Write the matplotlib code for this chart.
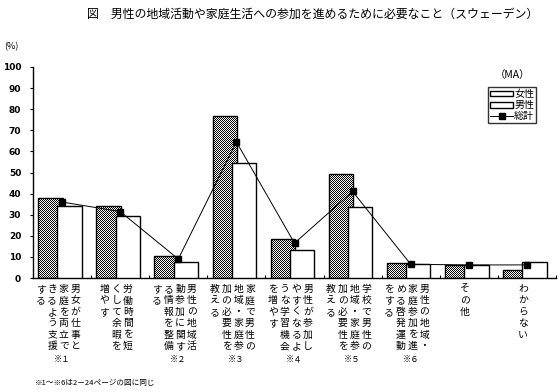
import numpy as np
import matplotlib
matplotlib.use("Agg")
import matplotlib.pyplot as plt

plt.rcParams['font.family'] = ['Noto Sans CJK JP', 'DejaVu Sans']

# ---------------- data ----------------
categories = [
    "男女が仕事と家庭を両立できるよう支援する",
    "労働時間を短くして余暇を増やす",
    "男性の地域活動参加に関する情報を整備する",
    "家庭で男性の地域・家庭参加の必要性を教える",
    "男性が参加しやすくなるような学習機会を増やす",
    "学校で男性の地域・家庭参加の必要性を教える",
    "男性の地域・家庭参加を進める啓発運動をする",
    "その他",
    "わからない",
]
notes = ["※１", "", "※２", "※３", "※４", "※５", "※６", "", ""]
female = [38, 34, 10.5, 77, 18.5, 49.5, 7, 6, 4]
male = [34, 29.5, 7.5, 54.5, 13.5, 33.5, 6.5, 6, 7.5]
total = [36, 31.5, 9, 64.5, 16.5, 41, 6.5, 6.2, 6.2]
series_names = ["女性", "男性", "総計"]
yticks = list(range(0, 101, 10))
title = "図　男性の地域活動や家庭生活への参加を進めるために必要なこと（スウェーデン）"
footnote = "※1～※6は2－24ページの図に同じ"

W, H = 560, 392
fig = plt.figure(figsize=(W / 100, H / 100), dpi=100)
ax_l, ax_r, ax_t, ax_b = 33, 556, 67, 278
ax = fig.add_axes([ax_l / W, 1 - ax_b / H, (ax_r - ax_l) / W, (ax_b - ax_t) / H])
ax.patch.set_visible(False)

n = len(categories)
x = np.arange(n)
bw = 0.42
bars_f = ax.bar(x - 0.2, female, bw, facecolor='none', edgecolor='black', lw=1.0, zorder=2)
bars_m = ax.bar(x + 0.13, male, bw, facecolor='white', edgecolor='black', lw=1.0, zorder=3)
line, = ax.plot(x, total, color='black', lw=0.7, marker='s', ms=4.2, mfc='black', mec='black', zorder=4)

ax.set_xlim(-0.5, n - 0.5)
ax.set_ylim(0, 100)
ax.set_yticks(yticks)
ax.set_yticklabels([str(v) for v in yticks], fontsize=6.5, family='DejaVu Sans', fontweight='bold')
ax.tick_params(axis='y', direction='out', length=2.5, width=0.8, pad=6)
ax.set_xticks(np.arange(n + 1) - 0.5)
ax.set_xticklabels([])
ax.tick_params(axis='x', direction='in', length=2.5, width=0.8)
for s in ['top', 'right']:
    ax.spines[s].set_visible(False)
for s in ['left', 'bottom']:
    ax.spines[s].set_linewidth(1.0)

# checkerboard fill for female bars
yy, xx = np.mgrid[0:H, 0:W]
chk = ((xx + yy) % 2).astype(float)
rgba = np.zeros((H, W, 4))
rgba[..., 0] = chk
rgba[..., 1] = chk
rgba[..., 2] = chk
rgba[..., 3] = 1.0
for b in bars_f:
    im = fig.figimage(rgba, 0, 0, origin='upper', zorder=-1)
    im.set_clip_path(b)

# legend
leg = ax.legend([bars_f, bars_m, line], series_names, loc='upper left',
                bbox_to_anchor=(488 / W, 1 - 87 / H), bbox_transform=fig.transFigure,
                fontsize=7.2, frameon=True, fancybox=False, borderpad=0.2,
                labelspacing=0.12, handlelength=2.3, handleheight=0.5,
                handletextpad=0.12, borderaxespad=0)
leg.get_frame().set_edgecolor('black')
leg.get_frame().set_facecolor('none')
leg.get_frame().set_linewidth(1.0)
fig.text(513 / W, 1 - 75 / H, "（MA）", ha='center', va='center', fontsize=7.5)

# category labels (vertical writing, columns right to left, 6 chars per column)
px = (ax_r - ax_l) / n  # pixels per category
col_sp = 11.7
row_y0 = 289
row_sp = 11.4
for i, lab in enumerate(categories):
    cols = [lab[k:k + 6] for k in range(0, len(lab), 6)]
    nc = len(cols)
    cx = ax_l + px * (i + 0.5) - 4
    for j, col in enumerate(cols):
        xc = cx + (nc - 1) * col_sp / 2 - j * col_sp
        for r, ch in enumerate(col):
            fig.text(xc / W, 1 - (row_y0 + r * row_sp) / H, ch, ha='center', va='center',
                     fontsize=7.1)
    if notes[i]:
        fig.text((ax_l + px * (i + 0.5)) / W, 1 - 359 / H, notes[i], ha='center',
                 va='center', fontsize=6)

fig.text(313 / W, 1 - 14 / H, title, ha='center', va='center', fontsize=8.6)
fig.text(4 / W, 1 - 47 / H, "(%)", ha='left', va='center', fontsize=6.5)
fig.text(35 / W, 1 - 383 / H, footnote, ha='left', va='center', fontsize=5.5)

fig.canvas.draw()
fig.savefig("out.png", dpi=100)
